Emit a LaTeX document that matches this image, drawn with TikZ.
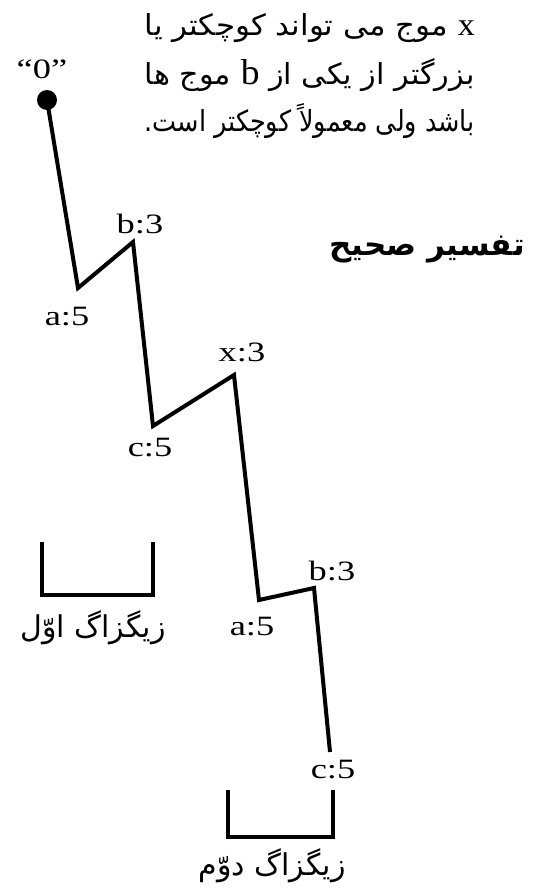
\documentclass[tikz,border=0pt]{standalone}
\usepackage{fontspec}
\usepackage{graphicx}
\setmainfont{Liberation Serif}
\newfontfamily\fa[Script=Arabic]{DejaVu Sans}
\newfontfamily\lab[FakeStretch=1.3]{Liberation Serif}
\TeXXeTstate=1
\newcommand{\faline}[1]{\resizebox{330pt}{\height}{#1}}
\begin{document}
\begin{tikzpicture}[x=1pt,y=-1pt,
  wave/.style={line width=4pt,black},
  brk/.style={line width=3.5pt,black},
  lbl/.style={font=\lab\fontsize{28}{30}\selectfont,inner sep=0pt},
  fatext/.style={font=\fa\fontsize{29}{34}\selectfont,inner sep=0pt},
  fabrk/.style={font=\fa\fontsize{30}{34}\selectfont,inner sep=0pt},
  fatitle/.style={font=\fa\bfseries\fontsize{31}{34}\selectfont,inner sep=0pt}]
\useasboundingbox (0,0) rectangle (534,891);
% vertices
\coordinate (O) at (47,100);
\coordinate (A1) at (78,288);
\coordinate (B1) at (133,242);
\coordinate (C1) at (153,426);
\coordinate (X) at (234,375);
\coordinate (A2) at (259,600);
\coordinate (B2) at (314,588);
\coordinate (C2) at (330,752);
\draw[wave] (O) -- (A1) -- (B1) -- (C1) -- (X) -- (A2) -- (B2) -- (C2);
\node[circle,fill=black,minimum size=20pt,inner sep=0pt] (dot) at (O) {};
% labels
\node[lbl] (l0) at (42,69) {“0”};
\node[lbl] (la1) at (67,317) {a:5};
\node[lbl] (lb1) at (140,224) {b:3};
\node[lbl] (lc1) at (150,448) {c:5};
\node[lbl] (lx) at (242,352) {x:3};
\node[lbl] (la2) at (252,627) {a:5};
\node[lbl] (lb2) at (332,571) {b:3};
\node[lbl] (lc2) at (333,770) {c:5};
% brackets
\coordinate (P1a) at (42,542);
\coordinate (P1b) at (42,595);
\coordinate (P1c) at (153,595);
\coordinate (P1d) at (153,542);
\draw[brk] (P1a) -- (P1b) -- (P1c) -- (P1d);
\node[fabrk] (z1) at (93,628) {\beginR زیگزاگ اوّل\endR};
\coordinate (P2a) at (228,790);
\coordinate (P2b) at (228,837);
\coordinate (P2c) at (333,837);
\coordinate (P2d) at (333,790);
\draw[brk] (P2a) -- (P2b) -- (P2c) -- (P2d);
\node[fabrk] (z2) at (272,866) {\beginR زیگزاگ دوّم\endR};
% top text
\node[fatext,anchor=east] (t1) at (475,28) {\faline{\beginR {\rmfamily\fontsize{32}{32}\selectfont x} موج می تواند کوچکتر یا\endR}};
\node[fatext,anchor=east] (t2) at (475,75) {\faline{\beginR بزرگتر از یکی از {\rmfamily\fontsize{36}{36}\selectfont b} موج ها\endR}};
\node[fatext,anchor=east] (t3) at (475,121) {\faline{\beginR باشد ولی معمولاً کوچکتر است.\endR}};
% title
\node[fatitle] (title) at (427,250) {\beginR تفسیر صحیح\endR};
\end{tikzpicture}
\end{document}
